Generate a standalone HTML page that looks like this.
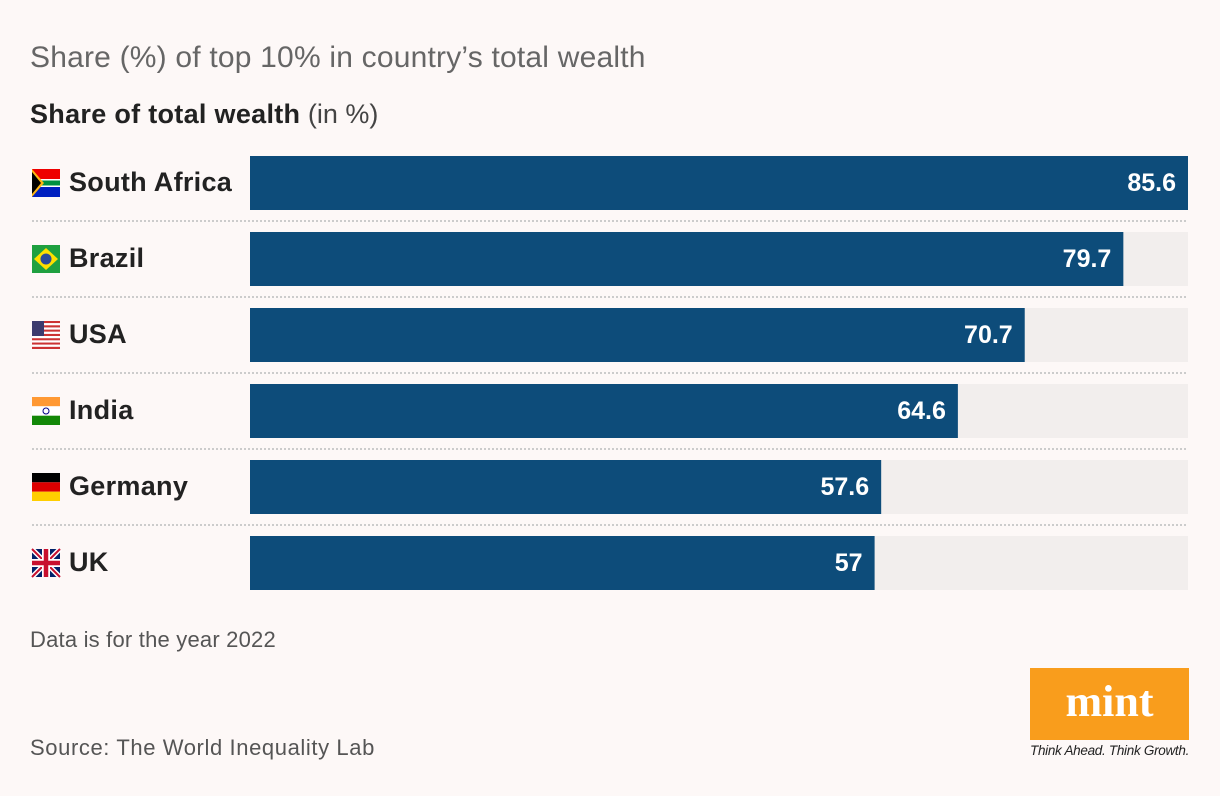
<!DOCTYPE html>
<html><head><meta charset="utf-8"><style>
body{margin:0;width:1220px;height:796px;background:#fdf8f7;font-family:"Liberation Sans",sans-serif;position:relative;overflow:hidden;color:#222}
.t{position:absolute;white-space:nowrap}
</style></head><body>
<div class="t" style="left:30px;top:41px;font-size:30px;color:#666;letter-spacing:0.2px">Share (%) of top 10% in country’s total wealth</div>
<div class="t" style="left:30px;top:99px;font-size:27px;color:#222"><b style="letter-spacing:0.3px">Share of total wealth</b> <span style="color:#444">(in %)</span></div>
<svg id="chart" width="1220" height="620" style="position:absolute;left:0;top:0"></svg>
<div class="t" style="left:30px;top:627px;font-size:22px;color:#555;letter-spacing:0.2px">Data is for the year 2022</div>
<div class="t" style="left:30px;top:735px;font-size:22px;color:#555;letter-spacing:0.6px">Source: The World Inequality Lab</div>
<div style="position:absolute;left:1030px;top:668px;width:159px;height:72px;background:#f99d1c;color:#fff;font-family:'Liberation Serif',serif;font-weight:bold;font-size:44px;text-align:center;line-height:68px">mint</div>
<div class="t" style="left:1030px;top:743px;font-size:13.5px;font-style:italic;color:#222;letter-spacing:-0.3px">Think Ahead. Think Growth.</div>
<script>
const countries=["South Africa","Brazil","USA","India","Germany","UK"];
const values=[85.6,79.7,70.7,64.6,57.6,57];
const labels=["85.6","79.7","70.7","64.6","57.6","57"];
const NS="http://www.w3.org/2000/svg";
const svg=document.getElementById('chart');
const x0=250,x1=1188,maxV=85.6;
const xs=v=>x0+(v/maxV)*(x1-x0);
const ys=i=>156+i*76;
function mk(t,a){const e=document.createElementNS(NS,t);for(const k in a)e.setAttribute(k,a[k]);svg.appendChild(e);return e;}
function flag(i,y){
 const g=document.createElementNS(NS,'g');g.setAttribute('transform',`translate(32,${y})`);svg.appendChild(g);
 const r=(x,yy,w,h,f)=>{const e=document.createElementNS(NS,'rect');e.setAttribute('x',x);e.setAttribute('y',yy);e.setAttribute('width',w);e.setAttribute('height',h);e.setAttribute('fill',f);g.appendChild(e);};
 const p=(d,f)=>{const e=document.createElementNS(NS,'path');e.setAttribute('d',d);e.setAttribute('fill',f);g.appendChild(e);};
 const W=28,H=28;
 if(i==0){r(0,0,W,14,'#e00');r(0,14,W,14,'#0020c0');r(0,10,W,8,'#fff');r(0,11.5,W,5,'#009040');p('M0 0L12 14L0 28Z','#ffb612');p('M0 3L9 14L0 25Z','#000');}
 if(i==1){r(0,0,W,H,'#1fa040');p('M14 3L26 14L14 25L2 14Z','#fedf00');const c=document.createElementNS(NS,'circle');c.setAttribute('cx',14);c.setAttribute('cy',14);c.setAttribute('r',5.5);c.setAttribute('fill','#2a4a9a');g.appendChild(c);}
 if(i==2){for(let k=0;k<13;k++)r(0,k*28/13,W,28/13,k%2?'#fff':'#c33');r(0,0,12,15,'#3c3b6e');}
 if(i==3){r(0,0,W,9.3,'#f93');r(0,9.3,W,9.4,'#fff');r(0,18.7,W,9.3,'#138808');const c=document.createElementNS(NS,'circle');c.setAttribute('cx',14);c.setAttribute('cy',14);c.setAttribute('r',3);c.setAttribute('fill','none');c.setAttribute('stroke','#008');g.appendChild(c);}
 if(i==4){r(0,0,W,9.3,'#000');r(0,9.3,W,9.4,'#d00');r(0,18.7,W,9.3,'#ffce00');}
 if(i==5){r(0,0,W,H,'#012169');const l=(d,c,w)=>{const e=document.createElementNS(NS,'path');e.setAttribute('d',d);e.setAttribute('stroke',c);e.setAttribute('stroke-width',w);g.appendChild(e);};l('M0 0L28 28M28 0L0 28','#fff',5);l('M0 0L28 28M28 0L0 28','#c8102e',2);l('M14 0V28M0 14H28','#fff',8);l('M14 0V28M0 14H28','#c8102e',4.5);}
}
countries.forEach((c,i)=>{
 const y=ys(i);
 const tr=mk('rect',{x:x0,y:y,width:x1-x0,height:54,fill:'#f2eeed'});
 
 const b=mk('rect',{x:x0,y:y,width:xs(values[i])-x0,height:54,fill:'#0d4c7a'});
 
 
 const v=mk('text',{x:xs(values[i])-12,y:y+35,'text-anchor':'end',fill:'#fff','font-size':25,'font-weight':'bold','font-family':'Liberation Sans, sans-serif'});v.textContent=labels[i];
 
 flag(i,y+13);
 const t=mk('text',{x:69,y:y+35,fill:'#222','font-size':27,'font-weight':'bold','font-family':'Liberation Sans, sans-serif','letter-spacing':'0.3'});t.textContent=c;
 
 if(i<countries.length-1){const s=mk('line',{x1:32,x2:x1,y1:y+65,y2:y+65,stroke:'#ccc','stroke-width':2,'stroke-dasharray':'2 2'});
 }
});
</script>
</body></html>
